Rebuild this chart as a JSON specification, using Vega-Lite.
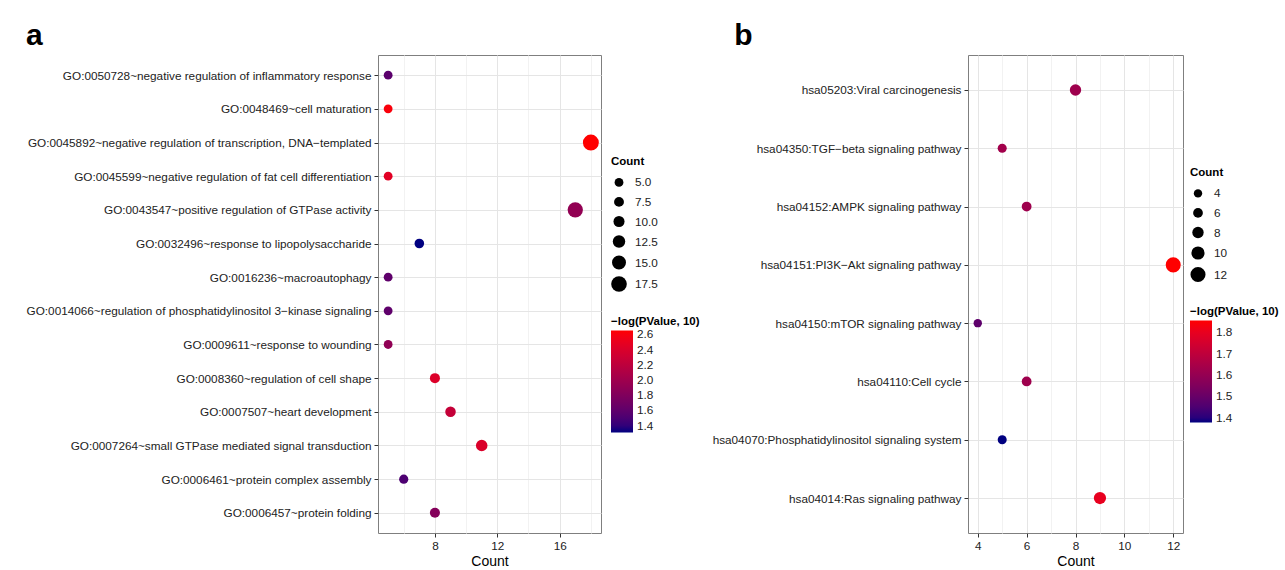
{
  "$schema": "https://vega.github.io/schema/vega-lite/v6.json",
  "padding": {"left": 25, "top": 20, "right": 5, "bottom": 5},
  "background": "white",
  "spacing": 10,
  "config": {
    "font": "Liberation Sans",
    "view": {"stroke": "#7f7f7f", "strokeWidth": 1},
    "axis": {
      "labelFont": "Liberation Sans",
      "labelFontSize": 11.75,
      "labelColor": "#222222",
      "tickColor": "#333333",
      "tickSize": 4,
      "domain": false,
      "grid": true,
      "gridColor": "#e5e5e5",
      "gridWidth": 1,
      "titleFont": "Liberation Sans",
      "titleFontSize": 14,
      "titleFontWeight": "normal",
      "titleColor": "#000000"
    },
    "legend": {
      "titleFont": "Liberation Sans",
      "titleFontSize": 11.5,
      "titleFontWeight": "bold",
      "titleColor": "#000000",
      "labelFont": "Liberation Sans",
      "labelFontSize": 11.75,
      "labelColor": "#222222"
    },
    "title": {"font": "Liberation Sans", "fontSize": 30, "fontWeight": "bold", "anchor": "start", "frame": "bounds", "color": "#000000"}
  },
  "datasets": {
    "go": [
      {"term": "GO:0050728~negative regulation of inflammatory response", "count": 5, "logp": 1.58},
      {"term": "GO:0048469~cell maturation", "count": 5, "logp": 2.61},
      {"term": "GO:0045892~negative regulation of transcription, DNA−templated", "count": 18, "logp": 2.65},
      {"term": "GO:0045599~negative regulation of fat cell differentiation", "count": 5, "logp": 2.45},
      {"term": "GO:0043547~positive regulation of GTPase activity", "count": 17, "logp": 1.91},
      {"term": "GO:0032496~response to lipopolysaccharide", "count": 7, "logp": 1.31},
      {"term": "GO:0016236~macroautophagy", "count": 5, "logp": 1.6},
      {"term": "GO:0014066~regulation of phosphatidylinositol 3−kinase signaling", "count": 5, "logp": 1.6},
      {"term": "GO:0009611~response to wounding", "count": 5, "logp": 1.9},
      {"term": "GO:0008360~regulation of cell shape", "count": 8, "logp": 2.41},
      {"term": "GO:0007507~heart development", "count": 9, "logp": 2.25},
      {"term": "GO:0007264~small GTPase mediated signal transduction", "count": 11, "logp": 2.4},
      {"term": "GO:0006461~protein complex assembly", "count": 6, "logp": 1.51},
      {"term": "GO:0006457~protein folding", "count": 8, "logp": 1.82}
    ],
    "kegg": [
      {"term": "hsa05203:Viral carcinogenesis", "count": 8, "logp": 1.62},
      {"term": "hsa04350:TGF−beta signaling pathway", "count": 5, "logp": 1.63},
      {"term": "hsa04152:AMPK signaling pathway", "count": 6, "logp": 1.62},
      {"term": "hsa04151:PI3K−Akt signaling pathway", "count": 12, "logp": 1.855},
      {"term": "hsa04150:mTOR signaling pathway", "count": 4, "logp": 1.48},
      {"term": "hsa04110:Cell cycle", "count": 6, "logp": 1.62},
      {"term": "hsa04070:Phosphatidylinositol signaling system", "count": 5, "logp": 1.377},
      {"term": "hsa04014:Ras signaling pathway", "count": 9, "logp": 1.8}
    ]
  },
  "resolve": {
    "scale": {"x": "independent", "y": "independent", "color": "independent", "size": "independent"},
    "legend": {"color": "independent", "size": "independent"}
  },
  "hconcat": [
    {
      "title": {"text": "a", "offset": 4},
      "data": {"name": "go"},
      "width": 223,
      "height": 478,
      "mark": {"type": "circle", "opacity": 1},
      "encoding": {
        "x": {
          "field": "count", "type": "quantitative", "title": "Count",
          "scale": {"domain": [4.35, 18.65], "nice": false, "zero": false},
          "axis": {
            "values": [6, 8, 10, 12, 14, 16, 18],
            "labelExpr": "datum.value % 4 == 0 ? datum.label : ''",
            "tickColor": {"condition": {"test": "datum.value % 4 == 0", "value": "#333333"}, "value": "transparent"},
            "gridColor": {"condition": {"test": "datum.value % 4 == 0", "value": "#e5e5e5"}, "value": "#f2f2f2"},
            "labelPadding": 3,
            "titlePadding": 3
          }
        },
        "y": {
          "field": "term", "type": "nominal", "title": null, "sort": "descending",
          "scale": {"type": "point", "padding": 0.6},
          "axis": {"labelPadding": 3, "labelLimit": 500, "grid": true}
        },
        "size": {
          "field": "count", "type": "quantitative", "title": "Count",
          "scale": {"type": "pow", "exponent": 2, "domain": [5, 18], "range": [78, 254], "zero": false},
          "legend": {
            "orient": "none", "legendX": 233, "legendY": 101,
            "values": [5, 7.5, 10, 12.5, 15, 17.5], "format": ".1f",
            "symbolFillColor": "#000000", "symbolStrokeWidth": 0, "symbolType": "circle",
            "rowPadding": 6.5, "titlePadding": 9, "labelOffset": 8
          }
        },
        "color": {
          "field": "logp", "type": "quantitative", "title": "−log(PValue, 10)",
          "scale": {"domain": [1.31, 2.65], "range": ["#000080", "#ff0000"], "interpolate": "lab", "nice": false, "zero": false},
          "legend": {
            "orient": "none", "legendX": 233, "legendY": 261,
            "values": [1.4, 1.6, 1.8, 2.0, 2.2, 2.4, 2.6], "format": ".1f",
            "gradientLength": 102, "gradientThickness": 22, "gradientStrokeWidth": 0,
            "titlePadding": 3, "labelOffset": 4
          }
        }
      }
    },
    {
      "title": {"text": "b", "offset": 4, "dx": 22},
      "data": {"name": "kegg"},
      "width": 215,
      "height": 478,
      "mark": {"type": "circle", "opacity": 1},
      "encoding": {
        "x": {
          "field": "count", "type": "quantitative", "title": "Count",
          "scale": {"domain": [3.6, 12.4], "nice": false, "zero": false},
          "axis": {
            "values": [4, 5, 6, 7, 8, 9, 10, 11, 12],
            "labelExpr": "datum.value % 2 == 0 ? datum.label : ''",
            "tickColor": {"condition": {"test": "datum.value % 2 == 0", "value": "#333333"}, "value": "transparent"},
            "gridColor": {"condition": {"test": "datum.value % 2 == 0", "value": "#e5e5e5"}, "value": "#f2f2f2"},
            "labelPadding": 3,
            "titlePadding": 3
          }
        },
        "y": {
          "field": "term", "type": "nominal", "title": null, "sort": "descending",
          "scale": {"type": "point", "padding": 0.6},
          "axis": {"labelPadding": 3, "labelLimit": 500, "grid": true}
        },
        "size": {
          "field": "count", "type": "quantitative", "title": "Count",
          "scale": {"type": "pow", "exponent": 2, "domain": [4, 12], "range": [71, 227], "zero": false},
          "legend": {
            "orient": "none", "legendX": 222, "legendY": 112,
            "values": [4, 6, 8, 10, 12],
            "symbolFillColor": "#000000", "symbolStrokeWidth": 0, "symbolType": "circle",
            "rowPadding": 6.5, "titlePadding": 9, "labelOffset": 8
          }
        },
        "color": {
          "field": "logp", "type": "quantitative", "title": "−log(PValue, 10)",
          "scale": {"domain": [1.377, 1.855], "range": ["#000080", "#ff0000"], "interpolate": "lab", "nice": false, "zero": false},
          "legend": {
            "orient": "none", "legendX": 222, "legendY": 251,
            "values": [1.4, 1.5, 1.6, 1.7, 1.8], "format": ".1f",
            "gradientLength": 102, "gradientThickness": 22, "gradientStrokeWidth": 0,
            "titlePadding": 3, "labelOffset": 4
          }
        }
      }
    }
  ]
}
